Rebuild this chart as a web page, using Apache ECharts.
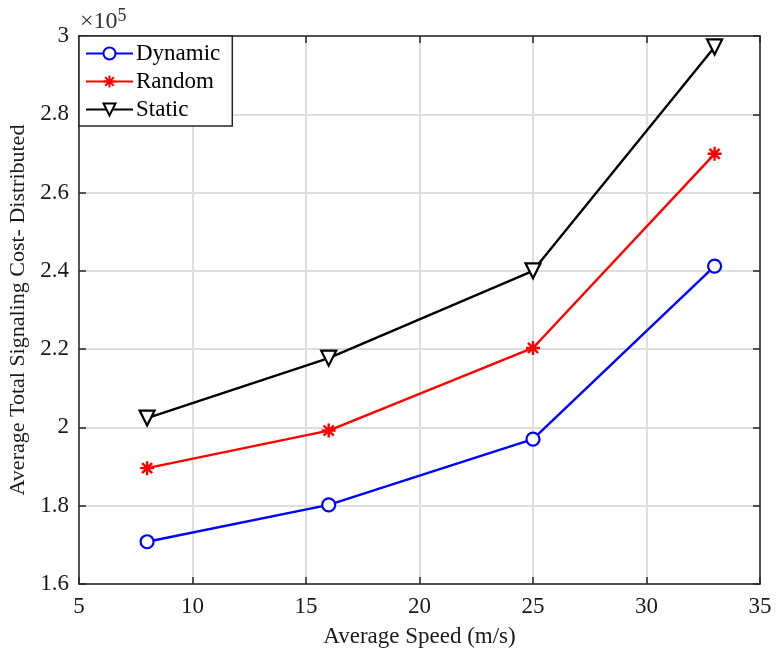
<!DOCTYPE html>
<html>
<head>
<meta charset="utf-8">
<script src="https://cdn.jsdelivr.net/npm/echarts@6/dist/echarts.min.js"></script>
<style>html,body{margin:0;padding:0;background:#fff}#c{width:776px;height:656px}</style>
</head>
<body>
<div id="c"></div>
<script>
var speeds = [8, 16, 25, 33];
var dynamicCost = [1.708, 1.802, 1.970, 2.412];
var randomCost = [1.896, 1.992, 2.203, 2.699];
var staticCost = [2.024, 2.177, 2.400, 2.972];
var seriesNames = ['Dynamic', 'Random', 'Static'];
var xTicks = {min: 5, max: 35, interval: 5};
var yTicks = {min: 1.6, max: 3, interval: 0.2};

function pairs(xs, ys) { return xs.map(function (x, i) { return [x, ys[i]]; }); }

var font = 'Liberation Serif';
var axisLineColor = '#262626';
var textColor = '#1a1a1a';
var chart = echarts.init(document.getElementById('c'), null, {renderer: 'canvas'});
var asterisk = 'path://M0,-1L0,1M-1,0L1,0M-0.72,-0.72L0.72,0.72M-0.72,0.72L0.72,-0.72';
var triDown = 'path://M-1,-0.85L1,-0.85L0,0.95Z';

var baseX = {
  type: 'value', min: xTicks.min, max: xTicks.max, interval: xTicks.interval,
  axisLine: {show: true, onZero: false, lineStyle: {color: axisLineColor, width: 1.5}},
  axisTick: {show: true, inside: true, length: 7, lineStyle: {color: axisLineColor, width: 1.5}},
  splitLine: {show: false}
};
var baseY = {
  type: 'value', min: yTicks.min, max: yTicks.max, interval: yTicks.interval,
  axisLine: {show: true, onZero: false, lineStyle: {color: axisLineColor, width: 1.5}},
  axisTick: {show: true, inside: true, length: 7, lineStyle: {color: axisLineColor, width: 1.5}},
  splitLine: {show: false}
};

chart.setOption({
  animation: false,
  backgroundColor: '#fff',
  grid: {left: 79, right: 16, top: 36, bottom: 72, containLabel: false, outerBoundsMode: 'none'},
  textStyle: {fontFamily: font},
  legend: {
    orient: 'vertical', left: 79, top: 36,
    data: seriesNames,
    backgroundColor: '#fff', borderColor: axisLineColor, borderWidth: 1.5,
    borderRadius: 0,
    padding: [6, 12, 5, 6],
    itemWidth: 47, itemHeight: 15, itemGap: 5,
    textStyle: {fontFamily: font, fontSize: 23, color: '#000', padding: [0, 0, 0, -2]}
  },
  graphic: [{
    type: 'text', left: 80, top: 7,
    style: {
      text: '×10{s|5}', fontFamily: font, fontSize: 24, fill: '#333',
      rich: {s: {fontFamily: font, fontSize: 18, verticalAlign: 'top', padding: [0, 0, 12, 0], fill: '#333'}}
    }
  }],
  xAxis: [
    Object.assign({}, baseX, {
      position: 'bottom',
      name: 'Average Speed (m/s)', nameLocation: 'middle', nameGap: 41,
      nameTextStyle: {fontFamily: font, fontSize: 23, color: textColor},
      axisLabel: {fontFamily: font, fontSize: 23, color: textColor, margin: 11},
      splitLine: {show: true, lineStyle: {color: '#dedede', width: 2}}
    }),
    Object.assign({}, baseX, {position: 'top', axisLabel: {show: false}})
  ],
  yAxis: [
    Object.assign({}, baseY, {
      position: 'left',
      name: 'Average Total Signaling Cost- Distributed', nameLocation: 'middle', nameGap: 47,
      nameTextStyle: {fontFamily: font, fontSize: 22, color: textColor},
      axisLabel: {fontFamily: font, fontSize: 23, color: textColor, margin: 10},
      splitLine: {show: true, lineStyle: {color: '#dedede', width: 2}}
    }),
    Object.assign({}, baseY, {position: 'right', axisLabel: {show: false}})
  ],
  series: [
    {
      name: seriesNames[0], type: 'line', data: pairs(speeds, dynamicCost),
      symbol: 'circle', symbolSize: 13,
      lineStyle: {color: '#0000ff', width: 2.4},
      itemStyle: {color: '#fff', borderColor: '#0000ff', borderWidth: 2.2}
    },
    {
      name: seriesNames[1], type: 'line', data: pairs(speeds, randomCost),
      symbol: asterisk, symbolSize: 14,
      lineStyle: {color: '#ff0000', width: 2.4},
      itemStyle: {color: '#ff0000', borderColor: '#ff0000', borderWidth: 2.4}
    },
    {
      name: seriesNames[2], type: 'line', data: pairs(speeds, staticCost),
      symbol: triDown, symbolSize: 15,
      lineStyle: {color: '#000', width: 2.4},
      itemStyle: {color: '#fff', borderColor: '#000', borderWidth: 2.2}
    }
  ]
});
</script>
</body>
</html>
